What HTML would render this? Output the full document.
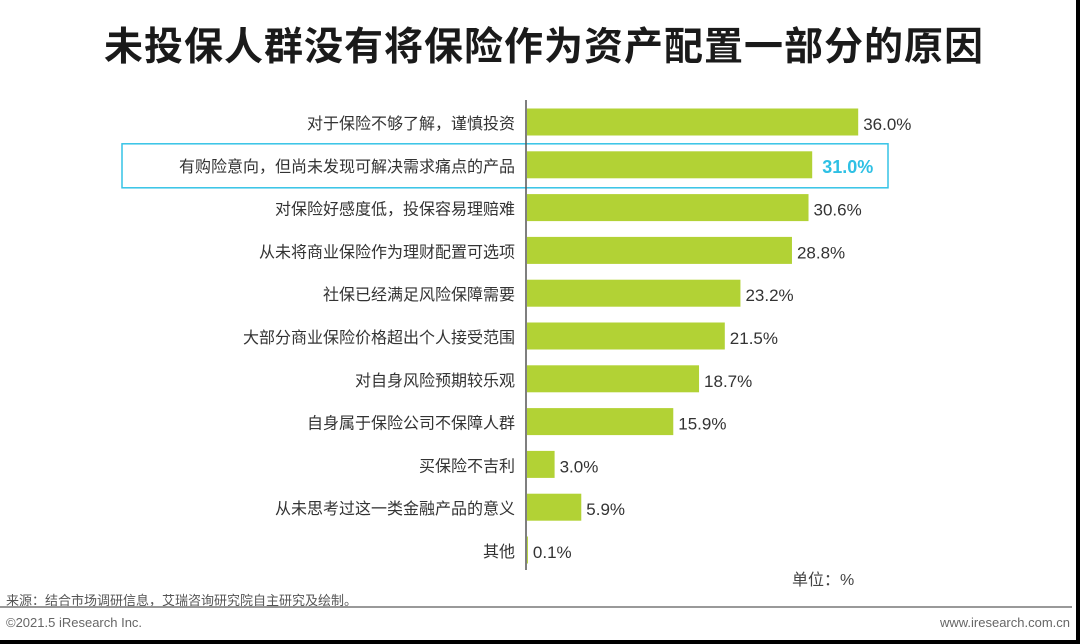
<!DOCTYPE html>
<html><head><meta charset="utf-8">
<style>
body{margin:0;width:1080px;height:644px;background:#000;overflow:hidden;font-family:"Liberation Sans","Noto Sans CJK SC",sans-serif;}
#page{position:absolute;left:0;top:0;width:1076px;height:640px;background:#fff;}
.t{position:absolute;white-space:nowrap;}
</style></head><body>
<div id="page">
<div class="t" style="left:0;width:1088px;text-align:center;top:16px;font-size:39px;font-weight:bold;color:#1a1a1a;letter-spacing:1px;">未投保人群没有将保险作为资产配置一部分的原因</div>
<svg id="chart" width="1076" height="600" style="position:absolute;left:0;top:0"></svg>
<div class="t" style="left:792px;top:566px;font-size:16px;color:#444;">单位：%</div>
<div class="t" style="left:6px;top:590px;font-size:13px;color:#555;">来源：结合市场调研信息，艾瑞咨询研究院自主研究及绘制。</div>
<div style="position:absolute;left:0;top:606px;width:1072px;height:2px;background:#999;"></div>
<div class="t" style="left:6px;top:615px;font-size:13px;color:#666;">©2021.5 iResearch Inc.</div>
<div class="t" style="right:6px;top:615px;font-size:13px;color:#666;">www.iresearch.com.cn</div>
</div>
<script>
const categories=["对于保险不够了解，谨慎投资","有购险意向，但尚未发现可解决需求痛点的产品","对保险好感度低，投保容易理赔难","从未将商业保险作为理财配置可选项","社保已经满足风险保障需要","大部分商业保险价格超出个人接受范围","对自身风险预期较乐观","自身属于保险公司不保障人群","买保险不吉利","从未思考过这一类金融产品的意义","其他"];
const values=[36.0,31.0,30.6,28.8,23.2,21.5,18.7,15.9,3.0,5.9,0.1];
const highlightIndex=1;
const svg=document.getElementById('chart');
const NS='http://www.w3.org/2000/svg';
const x0=527, pxPer=9.2, y0=122, step=42.8, bh=27;
const xs=v=>x0+v*pxPer;
const ys=i=>y0+i*step;
function mk(tag,attrs){const e=document.createElementNS(NS,tag);for(const k in attrs)e.setAttribute(k,attrs[k]);svg.appendChild(e);return e;}
const hb=mk('rect',{x:122,y:ys(highlightIndex)-21,width:766,height:44,fill:'none',stroke:'#35c3e6','stroke-width':1.5});


values.forEach((v,i)=>{
  const r=mk('rect',{x:x0,y:ys(i)-bh/2,width:v*pxPer,height:bh,fill:'#b2d235'});
  
  
  const hl=i===highlightIndex;
  const vl=mk('text',{x:xs(v)+(hl?10:5),y:ys(i)+8,'font-size':hl?18:17,'font-weight':hl?'bold':'normal',fill:hl?'#2ec0e4':'#333','font-family':'Liberation Sans, sans-serif'});
  vl.textContent=v.toFixed(1)+'%';
  
  
  const cl=mk('text',{x:515,y:ys(i)+7,'font-size':16,fill:'#333','text-anchor':'end','font-family':'Liberation Sans, Noto Sans CJK SC, sans-serif'});
  cl.textContent=categories[i];
  
  
});
const ax=mk('line',{x1:526,y1:100,x2:526,y2:570,stroke:'#555','stroke-width':1.5});


</script>
</body></html>
